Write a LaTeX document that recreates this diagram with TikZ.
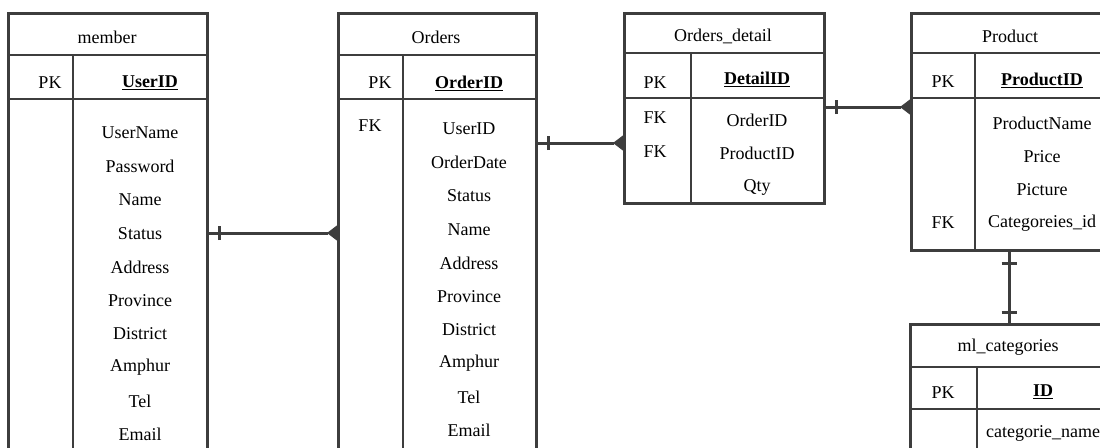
\documentclass[tikz,border=0pt]{standalone}
\usepackage{fontspec}
\setmainfont{Liberation Serif}
\usetikzlibrary{arrows.meta,decorations.markings}
\definecolor{linegray}{HTML}{3D3D3D}

\tikzset{
  tbl/.style={draw=linegray,line width=2.8pt,anchor=north west,inner sep=0pt},
  tline/.style={draw=linegray,line width=2.8pt},
  txt/.style={font=\fontsize{18}{20}\selectfont,inner sep=0pt},
  keytxt/.style={font=\fontsize{18}{20}\selectfont\bfseries,inner sep=0pt},
  rel/.style={draw=linegray,line width=3pt},
  tick/.style={-,draw=linegray,line width=3pt},
  onebar/.style={postaction={decorate,decoration={markings,
    mark=at position 11pt with {\draw[tick] (0,-7pt) -- (0,7pt);}}}},
  twobar/.style={postaction={decorate,decoration={markings,
    mark=at position 12pt with {\draw[tick] (0,-7.5pt) -- (0,7.5pt);},
    mark=at position -11pt with {\draw[tick] (0,-7.5pt) -- (0,7.5pt);}}}},
  crowfoot/.style={-{Triangle[reversed,length=10pt,width=15pt,line width=1pt,fill=linegray]}}
}

\begin{document}
\begin{tikzpicture}[x=1pt,y=-1pt]
\useasboundingbox (0,0) rectangle (1100,447);
\clip (0,0) rectangle (1100,447);

% member
\node[tbl,minimum width=199pt,minimum height=470pt] (member) at (7,12) {};
\draw[tline] (7,55) -- (206,55) (7,99) -- (206,99) (73,55) -- (73,490);
\node[txt] (member-title) at (107,37) {member};
\node[txt] (member-pk) at (50,83) {PK};
\node[keytxt] (member-key) at (150,83) {\underline{UserID}};
\foreach \f [count=\i from 0] in {UserName,Password,Name,Status,Address,Province,District,Amphur,Tel,Email}
  \node[txt] (member-\i) at (140,133+33.5*\i) {\f};

% Orders
\node[tbl,minimum width=198pt,minimum height=470pt] (orders) at (337,12) {};
\draw[tline] (337,55) -- (535,55) (337,99) -- (535,99) (403,55) -- (403,490);
\node[txt] (orders-title) at (436,37) {Orders};
\node[txt] (orders-pk) at (380,83) {PK};
\node[keytxt] (orders-key) at (469,83) {\underline{OrderID}};
\node[txt] (orders-fk) at (370,126) {FK};
\foreach \f [count=\i from 0] in {UserID,OrderDate,Status,Name,Address,Province,District,Amphur,Tel,Email}
  \node[txt] (orders-\i) at (469,129+33.5*\i) {\f};

% Orders_detail
\node[tbl,minimum width=200pt,minimum height=190pt] (detail) at (623,12) {};
\draw[tline] (623,53) -- (823,53) (623,98) -- (823,98) (691,53) -- (691,202);
\node[txt] (detail-title) at (723,36) {Orders\_detail};
\node[txt] (detail-pk) at (655,83) {PK};
\node[keytxt] (detail-key) at (757,79) {\underline{DetailID}};
\node[txt] (detail-fk1) at (655,118) {FK};
\node[txt] (detail-fk2) at (655,152) {FK};
\foreach \f [count=\i from 0] in {OrderID,ProductID,Qty}
  \node[txt] (detail-\i) at (757,120+33.5*\i) {\f};

% Product
\node[tbl,minimum width=200pt,minimum height=237pt] (product) at (910,12) {};
\draw[tline] (910,53) -- (1110,53) (910,98) -- (1110,98) (975,53) -- (975,249);
\node[txt] (product-title) at (1010,36) {Product};
\node[txt] (product-pk) at (943,82) {PK};
\node[keytxt] (product-key) at (1042,80) {\underline{ProductID}};
\node[txt] (product-fk) at (943,223) {FK};
\foreach \f [count=\i from 0] in {ProductName,Price,Picture,Categoreies\_id}
  \node[txt] (product-\i) at (1042,123+33.5*\i) {\f};

% ml_categories
\node[tbl,minimum width=200pt,minimum height=160pt] (mlcat) at (909,323) {};
\draw[tline] (909,367) -- (1109,367) (909,409) -- (1109,409) (977,367) -- (977,490);
\node[txt] (mlcat-title) at (1008,347) {ml\_categories};
\node[txt] (mlcat-pk) at (943,393) {PK};
\node[keytxt] (mlcat-key) at (1043,392) {\underline{ID}};
\node[txt] (mlcat-0) at (1043,433) {categorie\_name};

% relations
\coordinate (r1) at (0,233);
\coordinate (r2) at (0,143);
\coordinate (r3) at (0,107);
\coordinate (r4) at (1009,0);
\draw[rel,onebar,crowfoot] (member.east |- r1) -- (orders.west |- r1);
\draw[rel,onebar,crowfoot] (orders.east |- r2) -- (detail.west |- r2);
\draw[rel,onebar,crowfoot] (detail.east |- r3) -- (product.west |- r3);
\draw[rel,twobar] (product.south -| r4) -- (mlcat.north -| r4);
\end{tikzpicture}
\end{document}
